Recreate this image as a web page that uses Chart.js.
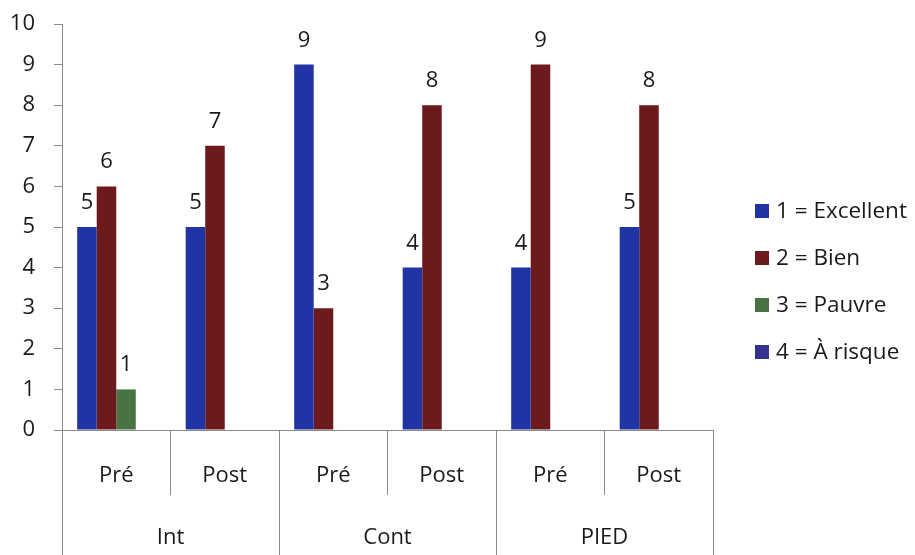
<!DOCTYPE html>
<html>
<head>
<meta charset="utf-8">
<script src="https://cdn.jsdelivr.net/npm/chart.js@4.4.1/dist/chart.umd.min.js"></script>
<style>
  html, body { margin: 0; padding: 0; background: #ffffff; }
  canvas { display: block; }
</style>
</head>
<body>
<canvas id="chart" width="915" height="555"></canvas>
<script>
// Sub-categories along the x axis and the groups they belong to
const phases = ['Pré', 'Post', 'Pré', 'Post', 'Pré', 'Post'];
const groups = ['Int', 'Cont', 'PIED'];

// Counts per rating
const excellent = [5, 5, 9, 4, 4, 5];
const bien      = [6, 7, 3, 8, 9, 8];
const pauvre    = [1, null, null, null, null, null];
const aRisque   = [null, null, null, null, null, null];

const seriesNames  = ['1 = Excellent', '2 = Bien', '3 = Pauvre', '4 = À risque'];
const seriesColors = ['#2035a3', '#6d1a1f', '#4a7343', '#353190'];

const yMin = 0, yMax = 10, yStep = 1;

const FONT = "'Open Sans', sans-serif";
const WEIGHT = 500;
const TEXT = '#1a1a1a';
const AXIS = '#8a8a8a';

// Value written above each bar
const valueLabels = {
  id: 'valueLabels',
  afterDatasetsDraw(chart) {
    const ctx = chart.ctx;
    ctx.save();
    ctx.font = WEIGHT + ' 22px ' + FONT;
    ctx.fillStyle = TEXT;
    ctx.textAlign = 'center';
    ctx.textBaseline = 'alphabetic';
    chart.data.datasets.forEach((ds, i) => {
      const meta = chart.getDatasetMeta(i);
      meta.data.forEach((bar, j) => {
        const v = ds.data[j];
        if (v === null || v === undefined) return;
        ctx.fillText(String(v), bar.x, bar.y - 18);
      });
    });
    ctx.restore();
  }
};

// Legend column on the right of the plot
const sideLegend = {
  id: 'sideLegend',
  afterDraw(chart) {
    const ctx = chart.ctx;
    const boxX = chart.chartArea.right + 42;
    const firstY = 211, step = 47, box = 14;
    ctx.save();
    ctx.font = WEIGHT + ' 22.5px ' + FONT;
    ctx.textAlign = 'left';
    ctx.textBaseline = 'middle';
    chart.data.datasets.forEach((ds, i) => {
      const y = firstY + i * step;
      ctx.fillStyle = ds.backgroundColor;
      ctx.fillRect(boxX, y - box / 2, box, box);
      ctx.fillStyle = TEXT;
      ctx.fillText(ds.label, boxX + box + 7, y + 1);
    });
    ctx.restore();
  }
};

function draw() {
  const datasets = [excellent, bien, pauvre, aRisque].map((values, i) => ({
    label: seriesNames[i],
    data: values,
    backgroundColor: seriesColors[i],
    borderWidth: 0,
    categoryPercentage: 0.72,
    barPercentage: 1.0
  }));

  const tickFont = { family: FONT, size: 22, weight: WEIGHT };

  new Chart(document.getElementById('chart'), {
    type: 'bar',
    data: { labels: phases, datasets },
    plugins: [valueLabels, sideLegend],
    options: {
      responsive: false,
      devicePixelRatio: 1,
      animation: false,
      layout: { padding: { left: 0, right: 202, top: 24, bottom: 0 } },
      plugins: {
        legend: { display: false },
        tooltip: { enabled: false }
      },
      scales: {
        y: {
          min: yMin,
          max: yMax,
          ticks: { stepSize: yStep, font: tickFont, color: TEXT, padding: 19 },
          grid: { display: true, drawOnChartArea: false, tickLength: 8, color: AXIS },
          border: { display: true, color: AXIS },
          afterFit(scale) {
            scale.width = 62;
            scale.paddingTop = 0;
            scale.paddingBottom = 0;
          }
        },
        x: {
          offset: true,
          weight: 0,
          ticks: { font: tickFont, color: TEXT, padding: -32, maxRotation: 0, autoSkip: false },
          grid: { display: true, offset: true, drawOnChartArea: false, tickLength: 65, color: AXIS },
          border: { display: true, color: AXIS },
          afterFit(scale) { scale.height = 65; }
        },
        x2: {
          type: 'category',
          labels: groups,
          position: 'bottom',
          offset: true,
          weight: 1,
          ticks: { font: tickFont, color: TEXT, padding: -30, maxRotation: 0, autoSkip: false },
          grid: { display: true, offset: true, drawOnChartArea: false, tickLength: 60, color: AXIS },
          border: { display: false },
          afterFit(scale) { scale.height = 60; }
        }
      }
    }
  });
}

if (document.fonts && document.fonts.load) {
  Promise.all([
    document.fonts.load("500 22px 'Open Sans'")
  ]).then(draw, draw);
} else {
  draw();
}
</script>
</body>
</html>
